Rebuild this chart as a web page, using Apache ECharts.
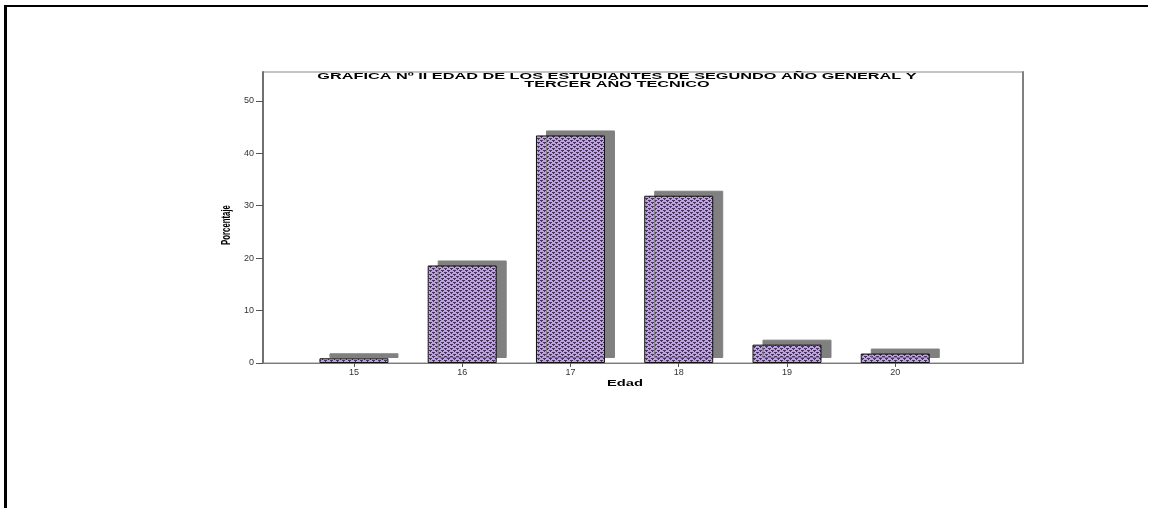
<!DOCTYPE html>
<html>
<head>
<meta charset="utf-8">
<script src="https://cdn.jsdelivr.net/npm/echarts@6/dist/echarts.min.js"></script>
<style>
  html, body { margin: 0; padding: 0; background: #fff; }
  #frame { position: absolute; left: 4px; top: 5px; width: 1144px; height: 510px;
           border-top: 2px solid #000; border-left: 3px solid #000; box-sizing: border-box; pointer-events: none; z-index: 2; }
  #chart { position: absolute; left: 0; top: 0; width: 1152px; height: 508px; }
</style>
</head>
<body>
<div id="chart"></div>
<div id="frame"></div>
<script>
// ---- data ----
const categories = [15, 16, 17, 18, 19, 20];
const porcentaje = [0.9, 18.6, 43.4, 31.9, 3.5, 1.8];
const yTicks = [0, 10, 20, 30, 40, 50];
const titleLines = ['GRAFICA Nº II EDAD DE LOS ESTUDIANTES DE SEGUNDO AÑO GENERAL Y', 'TERCER AÑO TECNICO'];
const xName = 'Edad';
const yName = 'Porcentaje';

// ---- pattern fill ----
function makePattern() {
  const c = document.createElement('canvas');
  c.width = 6; c.height = 4;
  const g = c.getContext('2d');
  g.fillStyle = '#c0a2e2';
  g.fillRect(0, 0, 6, 4);
  g.fillStyle = '#45345a';
  g.fillRect(0, 0, 3, 1);
  g.fillRect(1, 1, 1, 1);
  g.fillRect(3, 2, 3, 1);
  g.fillRect(4, 3, 1, 1);
  return c;
}

const FONT = '"Liberation Sans", Arial, sans-serif';
const chart = echarts.init(document.getElementById('chart'), null, { renderer: 'canvas' });

chart.setOption({
  animation: false,
  backgroundColor: '#fff',
  grid: { left: 263, right: 129, top: 72, bottom: 145, show: true, borderColor: '#8a8a8a', borderWidth: 1, containLabel: false },
  xAxis: {
    type: 'value', min: 14.16, max: 21.18,
    axisLine: { show: true, lineStyle: { color: '#7a7a7a', width: 1 } },
    axisTick: { show: true, customValues: categories, length: 4, lineStyle: { color: '#555' } },
    axisLabel: { customValues: categories, fontSize: 9, margin: 5, color: '#333', fontFamily: FONT },
    splitLine: { show: false }
  },
  yAxis: [{
    type: 'value', min: 0, max: 55.5,
    axisLine: { show: true, lineStyle: { color: '#707070', width: 2 } },
    axisTick: { show: true, customValues: yTicks, length: 7, lineStyle: { color: '#555' } },
    axisLabel: { customValues: yTicks, fontSize: 9, margin: 9, color: '#333', fontFamily: FONT },
    splitLine: { show: false }
  }, {
    type: 'value', min: 0, max: 55.5, position: 'right',
    axisLine: { show: true, lineStyle: { color: '#808080', width: 2 } },
    axisTick: { show: false }, axisLabel: { show: false }, splitLine: { show: false }
  }],
  series: [{
    type: 'bar',
    yAxisIndex: 0,
    barWidth: 69,
    data: categories.map((c, i) => [c, porcentaje[i]]),
    itemStyle: {
      color: { image: makePattern(), repeat: 'repeat' },
      borderColor: '#111',
      borderWidth: 1,
      shadowColor: '#808080',
      shadowBlur: 0,
      shadowOffsetX: 10,
      shadowOffsetY: -5
    },
    emphasis: { disabled: true }
  }],
  graphic: { elements: [
    {
      type: 'text', x: 617, y: 73, scaleY: 0.57,
      style: { text: titleLines.join('\n'), font: 'bold 16.3px ' + FONT, fill: '#000',
               textAlign: 'center', textVerticalAlign: 'top', align: 'center', verticalAlign: 'top', lineHeight: 13.5 }
    },
    {
      type: 'text', x: 625, y: 384, scaleX: 1.47, scaleY: 0.84,
      style: { text: xName, font: 'bold 10px ' + FONT, fill: '#000',
               textAlign: 'center', textVerticalAlign: 'middle', align: 'center', verticalAlign: 'middle' }
    },
    {
      type: 'text', x: 227, y: 225, rotation: Math.PI / 2, scaleX: 0.65,
      style: { text: yName, font: 'bold 12px ' + FONT, fill: '#000',
               textAlign: 'center', textVerticalAlign: 'middle', align: 'center', verticalAlign: 'middle' }
    }
  ]}
});
</script>
</body>
</html>
